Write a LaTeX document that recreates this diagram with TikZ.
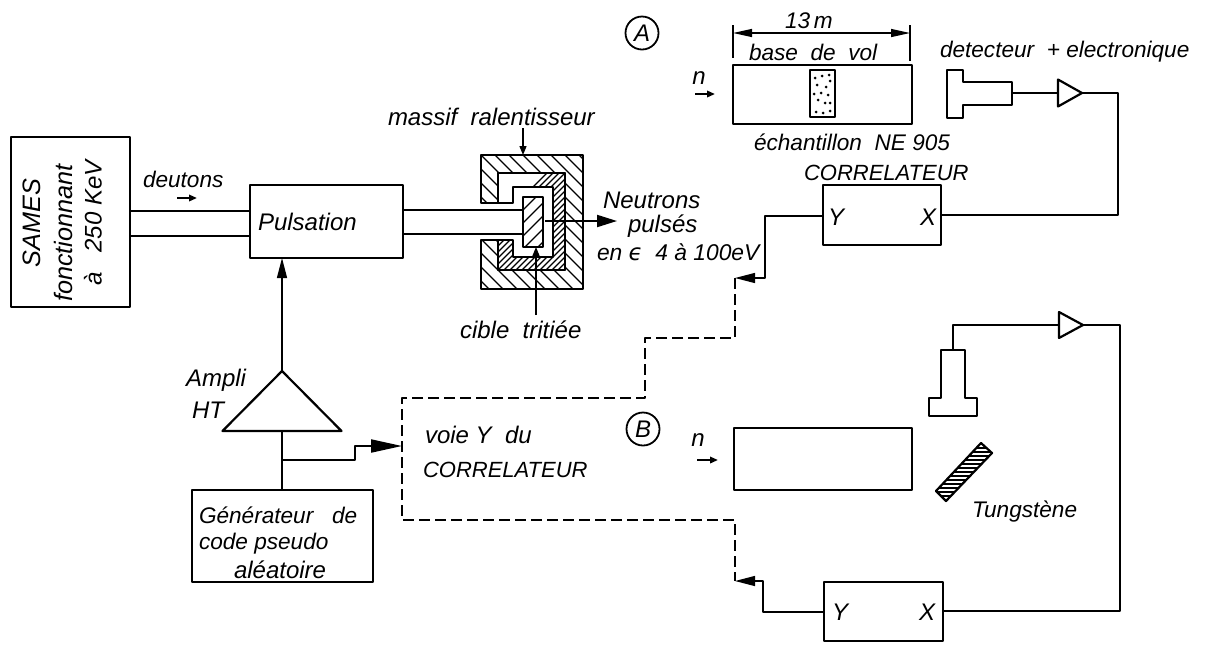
\documentclass[tikz,border=0pt]{standalone}
\usepackage{fontspec}
\setmainfont{Liberation Sans}
\newfontfamily\dvfont{DejaVu Sans}
\usetikzlibrary{arrows.meta,shapes.geometric,fit,calc}
\tikzset{
  x=.5pt,y=-.5pt,
  every node/.style={font=\fontsize{11.3}{13}\selectfont\itshape,inner sep=0pt,outer sep=0pt},
  boxn/.style={draw,line width=1.1pt,inner sep=0pt,outer sep=0pt,line join=round},
  thick wire/.style={line width=1pt,line join=round},
  wire/.style={line width=.65pt,line join=round},
  dashwire/.style={line width=.85pt,dash pattern=on 5.5pt off 2.5pt,line join=round},
  shapeline/.style={line width=1.1pt,line join=round},
  bigtip/.style={-{Triangle[length=15.5pt,width=6.5pt]}},
  midtip/.style={-{Triangle[length=10pt,width=5pt]}},
  smalltip/.style={-{Triangle[length=4pt,width=3.2pt]}},
  dimtip/.style={{Triangle[length=9.5pt,width=4pt]}-{Triangle[length=9.5pt,width=4pt]}},
  tri/.style={draw,isosceles triangle,isosceles triangle stretches,anchor=apex,line width=1.1pt,inner sep=0pt,outer sep=0pt,line join=round},
  ringn/.style={draw,circle,line width=.9pt,minimum size=16.5pt},
  bigtext/.style={font=\fontsize{12}{13}\selectfont\itshape}
}
\begin{document}
\begin{tikzpicture}
\useasboundingbox (0,0) rectangle (1214,644);
% boxes
\node[boxn,fit={(11,137)(130,307)}] (sames) {};
\node[boxn,fit={(250,185)(403,258)}] (puls) {};
\node[boxn,fit={(192,490)(373,582)}] (gen) {};
\node[boxn,fit={(733,65)(912,124)}] (boxA) {};
\node[boxn,fit={(734,428)(912,490)}] (boxB) {};
\node[boxn,fit={(823,185)(941,245)}] (corrA) {};
\node[boxn,fit={(824,582)(943,641)}] (corrB) {};
\node[tri,shape border rotate=90,minimum width=119*.5pt,minimum height=60*.5pt] (ampli) at (282,371) {};
\node[tri,minimum width=27*.5pt,minimum height=24*.5pt] (triA) at (1082,93) {};
\node[tri,minimum width=26*.5pt,minimum height=24*.5pt] (triB) at (1083,325) {};
% moderator block
\def\blockpath{(481,155)--(583,155)--(583,289)--(481,289)--(481,240)--(498,240)--(498,270)--(565,270)--(565,173)--(498,173)--(498,203)--(481,203)--cycle}
\begin{scope}
\clip \blockpath;
\foreach \c in {320,334,...,600} \draw[line width=.65pt] (\c,120)--(\c+200,320);
\end{scope}
\draw[shapeline] \blockpath;
\def\linerpath{(498,173)--(565,173)--(565,270)--(498,270)--(498,240)--(513,240)--(513,257)--(553,257)--(553,187)--(513,187)--(513,203)--(498,203)--cycle}
\begin{scope}
\clip \linerpath;
\foreach \c in {600,606,...,860} \draw[line width=.6pt] (\c,120)--(\c-200,320);
\end{scope}
\draw[shapeline] \linerpath;
\node[boxn,fit={(523,197)(543,247)}] (target) {};
\begin{scope}
\clip (523,197) rectangle (543,247);
\foreach \c in {530,543,...,600} \draw[line width=.6pt] (\c,190)--(\c-200,390);
\end{scope}
% sample A
\node[boxn,fit={(810,70)(835,117)}] (sample) {};
\foreach \p/\q in {815/78,822/76,829/75,817/85,826/87,830/81,821/93,828/95,818/100,825/103,830/103,816/112,823/113,830/111,814/94}
  \fill (\p,\q) circle[radius=1.5];
% detectors
\coordinate (detAout) at (1012,93);
\draw[shapeline] (947,70)--(963,70)--(963,82)--(1012,82)--(1012,105)--(963,105)--(963,118)--(947,118)--cycle;
\coordinate (detBtop) at (953,350);
\draw[shapeline] (941,350)--(965,350)--(965,398)--(977,398)--(977,416)--(929,416)--(929,398)--(941,398)--cycle;
% tungsten
\def\tung{(981,443)--(992,453)--(946,501)--(936,491)--cycle}
\begin{scope}
\clip \tung;
\foreach \c in {440,444,...,504} \draw[line width=.55pt] (930,\c)--(1000,\c);
\end{scope}
\draw[shapeline] \tung;
% beams
\draw[wire] (sames.east|-0,211) -- (puls.west|-0,211);
\draw[wire] (sames.east|-0,236) -- (puls.west|-0,236);
\draw[wire] (puls.east|-0,210) -- (target.west|-0,210);
\draw[wire] (puls.east|-0,234) -- (target.west|-0,234);
% connectors
\coordinate (neutA) at (545,221);
\coordinate (neutB) at (617,221);
\draw[line width=1pt,-{Triangle[length=10pt,width=6pt]}] (neutA) -- (neutB);
\draw[wire,midtip] (ampli.apex) -- (puls.south-|ampli.apex);
\draw[thick wire] (ampli.south) -- (gen.north-|ampli.south);
\coordinate (branch) at (ampli.south|-0,460);
\coordinate (dl) at (402,446);
\draw[thick wire,bigtip] (branch) -- (355,460) -- (355,446) -- (dl);
% dashed path
\coordinate (dA) at (735,278);
\coordinate (dB) at (735,581);
\draw[dashwire] (dA) -- (735,338) -- (645,338) -- (645,398) -- (dl|-0,398) -- (dl|-0,520) -- (735,520) -- (dB);
\draw[wire,midtip] (corrA.west|-0,216) -- (765,216) -- (765,278) -- (dA);
\draw[wire,midtip] (corrB.west|-0,612) -- (763,612) -- (763,581) -- (dB);
\draw[wire] (corrA.east|-0,215) -- (1118,215) -- (1118,93) -- (triA.apex);
\draw[wire] (detAout) -- (triA.west|-0,93);
\draw[wire] (detBtop) -- (953,325) -- (triB.west|-0,325);
\draw[wire] (triB.apex) -- (1120,325) -- (1120,611) -- (corrB.east|-0,611);
% dimension
\coordinate (dimL) at (733,25);
\coordinate (dimR) at (910,25);
\draw[wire] (dimL) -- (733,58);
\draw[wire] (dimR) -- (910,61);
\draw[wire,dimtip] (733,33) -- (910,33);
% small arrows
\draw[line width=1pt,smalltip] (177,198) -- (197,198);
\draw[line width=1pt,smalltip] (695,94) -- (715,94);
\draw[line width=1pt,smalltip] (697,460) -- (718,460);
% leaders
\coordinate (msf) at (523,128);
\draw[wire,-{Triangle[length=4.5pt,width=3.5pt]}] (msf) -- (523,155);
\coordinate (cbl) at (536,315);
\draw[wire,-{Triangle[length=4.5pt,width=3.5pt]}] (cbl) -- (target.south-|cbl);
% rings
\node[ringn,bigtext] (ringA) at (642,33) {A};
\node[ringn,bigtext] (ringB) at (643,429) {B};
% labels
\node[rotate=90,font=\fontsize{12.6}{13}\selectfont\itshape] (l1) at (32,223) {SAMES};
\node[rotate=90,font=\fontsize{12.6}{13}\selectfont\itshape] (l2) at (63,233) {fonctionnant};
\node[rotate=90,font=\fontsize{12}{13}\selectfont\itshape] (l3) at (93,223) {à\ \ \ 250\ KeV};
\node[anchor=west] (l4) at (143,179) {deutons};
\node[anchor=west,bigtext] (l5) at (258,222) {Pulsation};
\node[anchor=west,bigtext] (l6) at (388,117) {massif\ \ ralentisseur};
\node[anchor=west,bigtext] (l7) at (603,200) {Neutrons};
\node[anchor=west,bigtext] (l8) at (628,226) {pulsés};
\node[anchor=west,font=\fontsize{11.4}{13}\selectfont\itshape] (l9) at (597,252) {en {\dvfont ϵ}\ \ 4 à 100eV};
\node[anchor=west,bigtext] (l10) at (460,330) {cible\ \ tritiée};
\node[anchor=west,bigtext] (l11) at (186,380) {Ampli};
\node[anchor=west,bigtext] (l12) at (192,410) {HT};
\node[anchor=west] (l13) at (199,515) {Générateur\ \ \ de};
\node[anchor=west] (l14) at (199,544) {code pseudo};
\node[anchor=west,bigtext] (l15) at (234,570) {aléatoire};
\node[anchor=west,bigtext] (l16) at (425,435) {voie Y\ \ du};
\node[anchor=west,font=\fontsize{11}{13}\selectfont\itshape] (l17) at (423,470) {CORRELATEUR};
\node[anchor=west] (l18) at (785,21) {13\,m};
\node[anchor=west] (l19) at (749,52) {base\ \ de\ \ vol};
\node[anchor=west] (l20) at (940,52) {detecteur\ \ +\ electronique};
\node[bigtext] (l21) at (699,78) {n};
\node[bigtext] (l22) at (698,440) {n};
\node[anchor=west] (l23) at (754,142) {échantillon\ \ NE 905};
\node[anchor=west,font=\fontsize{11}{13}\selectfont\itshape] (l24) at (804,173) {CORRELATEUR};
\node[bigtext] (l25) at (836,217) {Y};
\node[bigtext] (l26) at (928,217) {X};
\node[bigtext] (l27) at (840,612) {Y};
\node[bigtext] (l28) at (927,612) {X};
\node[anchor=west] (l29) at (972,512) {Tungstène};
\end{tikzpicture}
\end{document}
